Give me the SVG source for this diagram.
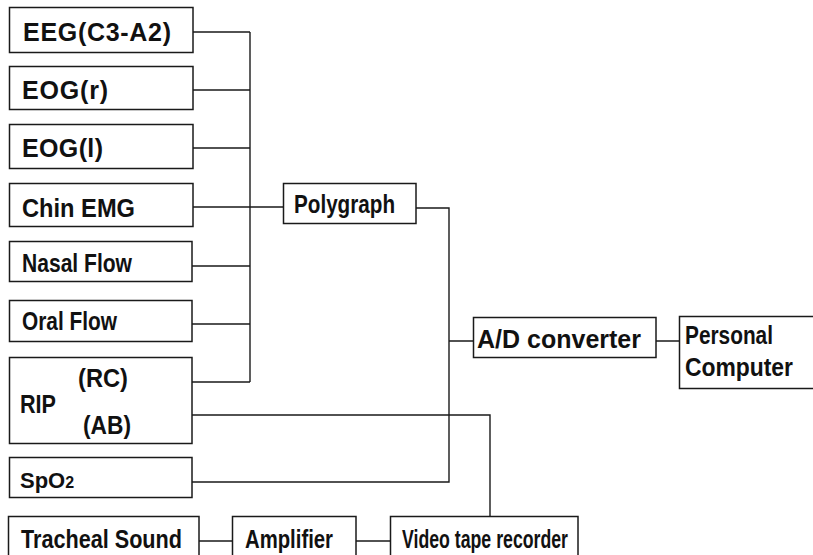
<svg xmlns="http://www.w3.org/2000/svg" width="813" height="555" viewBox="0 0 813 555">
<style>
.box{fill:#fff;stroke:#1a1a1a;stroke-width:1.5}
.t{font-family:"Liberation Sans",Arial,sans-serif;font-weight:bold;font-size:25px;fill:#111}
.c{fill:none;stroke:#1a1a1a;stroke-width:1.4}
</style>
<rect width="813" height="555" fill="#fff"/>
<g id="connectors" class="c">
<path d="M250,32V382"/>
<path d="M193,32H250M193,90H250M193,148H250M193,207H283M192,266H250M192,324H250M192,382H250"/>
<path d="M416,208H449V482H192"/>
<path d="M449,341H473M656,341H679"/>
<path d="M192,415H490V516"/>
<path d="M199,541H232M356,541H390"/>
</g>
<g id="eeg"><rect class="box" x="9.5" y="7.5" width="183.5" height="45"/><text class="t" x="23" y="41" textLength="148">EEG(C3-A2)</text></g>
<g id="eogr"><rect class="box" x="9.5" y="66.5" width="183.5" height="43"/><text class="t" x="22" y="99" textLength="86">EOG(r)</text></g>
<g id="eogl"><rect class="box" x="9.5" y="124.5" width="183.5" height="44"/><text class="t" x="22" y="157" textLength="81">EOG(l)</text></g>
<g id="chin"><rect class="box" x="9.5" y="183.5" width="183.5" height="43"/><text class="t" x="22" y="217" textLength="113" lengthAdjust="spacingAndGlyphs">Chin EMG</text></g>
<g id="nasal"><rect class="box" x="9.5" y="241.5" width="182.5" height="40"/><text class="t" x="22" y="272" textLength="110" lengthAdjust="spacingAndGlyphs">Nasal Flow</text></g>
<g id="oral"><rect class="box" x="9.5" y="300.5" width="182.5" height="41"/><text class="t" x="22" y="330" textLength="95" lengthAdjust="spacingAndGlyphs">Oral Flow</text></g>
<g id="rip"><rect class="box" x="9.5" y="357.5" width="182.5" height="86"/>
<text class="t" x="78" y="387" textLength="50" lengthAdjust="spacingAndGlyphs">(RC)</text>
<text class="t" x="20" y="413" textLength="36" lengthAdjust="spacingAndGlyphs">RIP</text>
<text class="t" x="83" y="434" textLength="48" lengthAdjust="spacingAndGlyphs">(AB)</text></g>
<g id="spo2"><rect class="box" x="9.5" y="457.5" width="182.5" height="40"/><text class="t" x="20" y="488" style="font-size:22px">SpO<tspan style="font-size:16px">2</tspan></text></g>
<g id="tracheal"><rect class="box" x="8.5" y="516.5" width="190.5" height="45"/><text class="t" x="21" y="548" textLength="161" lengthAdjust="spacingAndGlyphs">Tracheal Sound</text></g>
<g id="amplifier"><rect class="box" x="232.5" y="516.5" width="123.5" height="45"/><text class="t" x="245" y="548" textLength="88" lengthAdjust="spacingAndGlyphs">Amplifier</text></g>
<g id="vtr"><rect class="box" x="390.5" y="516.5" width="187.5" height="45"/><text class="t" x="402" y="548" textLength="166" lengthAdjust="spacingAndGlyphs">Video tape recorder</text></g>
<g id="polygraph"><rect class="box" x="283.5" y="183.5" width="132.5" height="40"/><text class="t" x="294" y="213" textLength="101" lengthAdjust="spacingAndGlyphs">Polygraph</text></g>
<g id="adc"><rect class="box" x="473.5" y="317.5" width="182.5" height="40"/><text class="t" x="477" y="348" textLength="164" lengthAdjust="spacingAndGlyphs">A/D converter</text></g>
<g id="pc"><rect class="box" x="679.5" y="316.5" width="140" height="72"/><text class="t" x="685" y="344" textLength="88" lengthAdjust="spacingAndGlyphs">Personal</text><text class="t" x="685" y="376" textLength="108" lengthAdjust="spacingAndGlyphs">Computer</text></g>
</svg>
